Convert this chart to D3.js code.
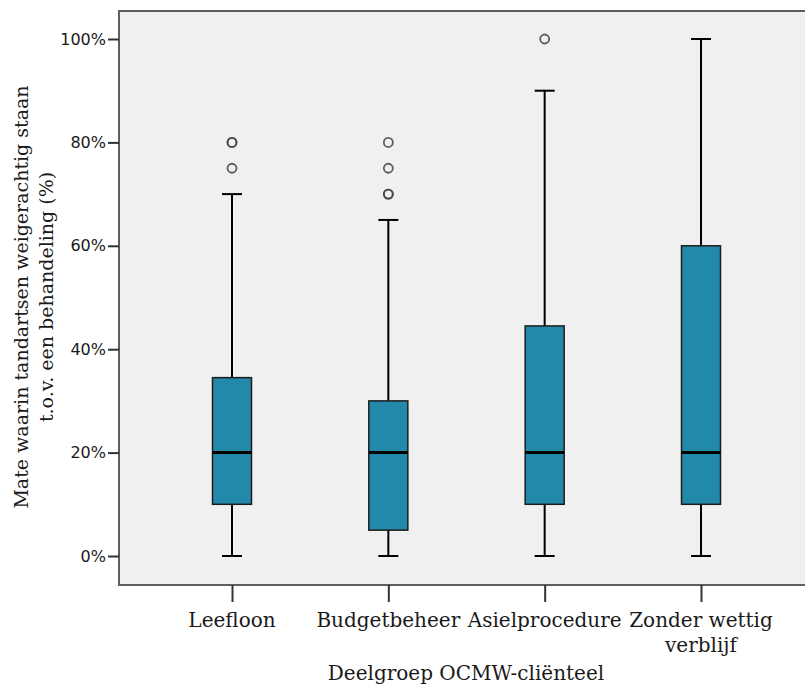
<!DOCTYPE html>
<html>
<head>
<meta charset="utf-8">
<script src="https://cdn.jsdelivr.net/npm/d3@7"></script>
<style>
  body { margin: 0; background: #fff; }
  svg { display: block; }
</style>
</head>
<body>
<div id="chart"></div>
<script>
// box plot values, in %
var categories = ["Leefloon", "Budgetbeheer", "Asielprocedure", "Zonder wettig verblijf"];
var whiskerLow = [0, 0, 0, 0];
var q1 = [10, 5, 10, 10];
var median = [20, 20, 20, 20];
var q3 = [34.5, 30, 44.5, 60];
var whiskerHigh = [70, 65, 90, 100];
// repeated values = overlapping outliers (drawn darker)
var outliers = [[75, 80, 80], [70, 70, 75, 80], [100], []];
var yTicks = [0, 20, 40, 60, 80, 100];

var width = 805, height = 687;
var plot = { left: 119, top: 11, right: 820, bottom: 585 };

var svg = d3.select("#chart").append("svg")
    .attr("width", width)
    .attr("height", height);

var x = d3.scalePoint()
    .domain(categories)
    .range([232, 701]);

var y = d3.scaleLinear()
    .domain([0, 100])
    .range([556, 39]);

/* plot background and frame */
svg.append("rect")
    .attr("x", plot.left)
    .attr("y", plot.top)
    .attr("width", plot.right - plot.left)
    .attr("height", plot.bottom - plot.top)
    .attr("fill", "#f0f0f0")
    .attr("stroke", "#5e5e5e")
    .attr("stroke-width", 2);

/* y axis */
var yAxis = d3.axisLeft(y)
    .tickValues(yTicks)
    .tickSize(11)
    .tickPadding(2)
    .tickFormat(d => d + "%");

var gy = svg.append("g")
    .attr("transform", "translate(" + plot.left + ",0)")
    .call(yAxis);
gy.select(".domain").remove();
gy.selectAll(".tick line").attr("stroke", "#333").attr("stroke-width", 2);
gy.selectAll(".tick text")
    .attr("fill", "#1a1a1a")
    .style("font-family", "'DejaVu Sans', sans-serif")
    .style("font-size", "16px");

/* x axis */
var xAxis = d3.axisBottom(x).tickSize(17).tickFormat("");
var gx = svg.append("g")
    .attr("transform", "translate(0," + plot.bottom + ")")
    .call(xAxis);
gx.select(".domain").remove();
gx.selectAll(".tick line").attr("stroke", "#333").attr("stroke-width", 2);

var labelFont = "'DejaVu Serif', serif";
var labelLines = [["Leefloon"], ["Budgetbeheer"], ["Asielprocedure"], ["Zonder wettig", "verblijf"]];

categories.forEach(function(c, i){
    var t = svg.append("text")
        .attr("x", x(c))
        .attr("y", 627)
        .attr("text-anchor", "middle")
        .attr("fill", "#1a1a1a")
        .style("font-family", labelFont)
        .style("font-size", "20px");
    labelLines[i].forEach(function(line, j){
        t.append("tspan")
            .attr("x", x(c))
            .attr("dy", j === 0 ? 0 : 25)
            .text(line);
    });
});

svg.append("text")
    .attr("x", 466)
    .attr("y", 680)
    .attr("text-anchor", "middle")
    .attr("fill", "#1a1a1a")
    .style("font-family", labelFont)
    .style("font-size", "20px")
    .text("Deelgroep OCMW-cliënteel");

var yTitle = svg.append("text")
    .attr("transform", "translate(28,297) rotate(-90)")
    .attr("text-anchor", "middle")
    .attr("fill", "#1a1a1a")
    .style("font-family", labelFont)
    .style("font-size", "19px");
yTitle.append("tspan").attr("x", 0).attr("dy", 0).text("Mate waarin tandartsen weigerachtig staan");
yTitle.append("tspan").attr("x", 0).attr("dy", 25).text("t.o.v. een behandeling (%)");

/* boxes */
var boxW = 39, capW = 20;
var idx = d3.range(categories.length);

var g = svg.append("g");

g.selectAll(".whisker")
    .data(idx)
    .enter()
    .append("line")
    .attr("x1", i => x(categories[i]))
    .attr("x2", i => x(categories[i]))
    .attr("y1", i => y(whiskerLow[i]))
    .attr("y2", i => y(whiskerHigh[i]))
    .attr("stroke", "#000")
    .attr("stroke-width", 2);

["low", "high"].forEach(function(k){
    g.selectAll(".cap-" + k)
        .data(idx)
        .enter()
        .append("line")
        .attr("x1", i => x(categories[i]) - capW/2)
        .attr("x2", i => x(categories[i]) + capW/2)
        .attr("y1", i => y(k === "low" ? whiskerLow[i] : whiskerHigh[i]))
        .attr("y2", i => y(k === "low" ? whiskerLow[i] : whiskerHigh[i]))
        .attr("stroke", "#000")
        .attr("stroke-width", 2);
});

g.selectAll(".box")
    .data(idx)
    .enter()
    .append("rect")
    .attr("x", i => x(categories[i]) - boxW/2)
    .attr("y", i => y(q3[i]))
    .attr("width", boxW)
    .attr("height", i => y(q1[i]) - y(q3[i]))
    .attr("fill", "#2389aa")
    .attr("stroke", "#1c1c1c")
    .attr("stroke-width", 1.5);

g.selectAll(".median")
    .data(idx)
    .enter()
    .append("line")
    .attr("x1", i => x(categories[i]) - boxW/2)
    .attr("x2", i => x(categories[i]) + boxW/2)
    .attr("y1", i => y(median[i]))
    .attr("y2", i => y(median[i]))
    .attr("stroke", "#000")
    .attr("stroke-width", 3);

/* outliers */
var pts = [];
outliers.forEach(function(arr, i){
    arr.forEach(function(v){ pts.push({ c: categories[i], v: v }); });
});

g.selectAll(".outlier")
    .data(pts)
    .enter()
    .append("circle")
    .attr("cx", d => x(d.c))
    .attr("cy", d => y(d.v))
    .attr("r", 4.5)
    .attr("fill", "none")
    .attr("stroke", "#444")
    .attr("stroke-opacity", 0.85)
    .attr("stroke-width", 1.8);
</script>
</body>
</html>
